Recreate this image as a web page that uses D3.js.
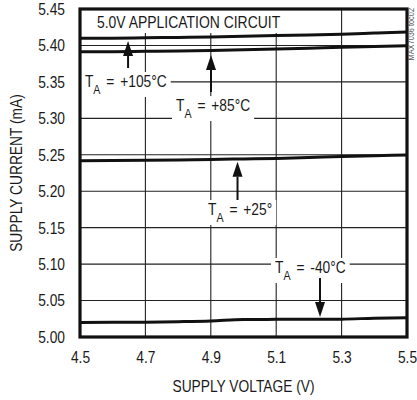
<!DOCTYPE html>
<html>
<head>
<meta charset="utf-8">
<script src="https://cdn.jsdelivr.net/npm/d3@7"></script>
<style>
  html, body { margin: 0; padding: 0; background: #fff; }
  svg { display: block; }
  text { font-family: "Liberation Sans", Arial, sans-serif; fill: #1a1a1a; }
</style>
</head>
<body>
<svg id="chart" width="417" height="400"></svg>
<script>
// ---- data ----
const voltage = [4.5, 4.6, 4.7, 4.8, 4.9, 5.0, 5.1, 5.2, 5.3, 5.4, 5.5];
const current105 = [5.4098, 5.4100, 5.4105, 5.4110, 5.4115, 5.4125, 5.4135, 5.4145, 5.4155, 5.4170, 5.4185];
const current85  = [5.3912, 5.3915, 5.3920, 5.3925, 5.3932, 5.3940, 5.3950, 5.3962, 5.3975, 5.3986, 5.3997];
const current25  = [5.2418, 5.2421, 5.2425, 5.2430, 5.2436, 5.2443, 5.2450, 5.2462, 5.2475, 5.2486, 5.2497];
const currentM40 = [5.0200, 5.0201, 5.0203, 5.0210, 5.0220, 5.0240, 5.0242, 5.0243, 5.0245, 5.0258, 5.0265];
const xTicks = [4.5, 4.7, 4.9, 5.1, 5.3, 5.5];
const yTicks = [5.00, 5.05, 5.10, 5.15, 5.20, 5.25, 5.30, 5.35, 5.40, 5.45];
const seriesLabels = ["+105°C", "+85°C", "+25°", "-40°C"];
const title = "5.0V APPLICATION CIRCUIT";
const xTitle = "SUPPLY VOLTAGE (V)";
const yTitle = "SUPPLY CURRENT (mA)";
const tocLabel = "MAX7036 toc02";

// ---- layout ----
const svg = d3.select("#chart");
const m = { left: 80, top: 9, right: 10, bottom: 63 };
const W = 417, H = 400;
const x = d3.scaleLinear().domain([4.5, 5.5]).range([m.left, W - m.right]);
const y = d3.scaleLinear().domain([5.0, 5.45]).range([H - m.bottom, m.top]);
const SX = 0.82;     // horizontal condensing of the font
const fs = 16.8;

// place a text at (px,py) condensed horizontally
function placeText(sel, px, py, rot) {
  sel.attr("x", 0).attr("y", 0)
    .attr("transform", `translate(${px},${py})${rot ? ` rotate(${rot})` : ""} scale(${SX},1)`);
  return sel;
}

// gridlines
const grid = svg.append("g").attr("stroke", "#222").attr("stroke-width", 1.1);
grid.selectAll("line.v").data(xTicks.slice(1, -1)).join("line")
  .attr("x1", d => x(d)).attr("x2", d => x(d))
  .attr("y1", y(5.45)).attr("y2", y(5.0));
grid.selectAll("line.h").data(yTicks.slice(1, -1)).join("line")
  .attr("y1", d => y(d)).attr("y2", d => y(d))
  .attr("x1", x(4.5)).attr("x2", x(5.5));

// axes (labels only)
const yAxis = svg.append("g").attr("transform", `translate(${m.left},0)`)
  .call(d3.axisLeft(y).tickValues(yTicks).tickFormat(d3.format(".2f")).tickSize(0).tickPadding(15));
const xAxis = svg.append("g").attr("transform", `translate(0,${H - m.bottom})`)
  .call(d3.axisBottom(x).tickValues(xTicks).tickFormat(d3.format(".1f")).tickSize(0).tickPadding(14));
[xAxis, yAxis].forEach(a => {
  a.select(".domain").remove();
  a.selectAll("text").attr("font-size", fs).attr("font-family", null).style("fill", "#1a1a1a");
});
yAxis.selectAll(".tick text").each(function () {
  d3.select(this).attr("transform", `translate(-15,0) scale(${SX},1)`).attr("x", 0);
});
xAxis.selectAll(".tick text").each(function () {
  d3.select(this).attr("transform", `scale(${SX},1)`);
});

// title box
const tg = svg.append("g");
const tt = placeText(tg.append("text"), x(4.5) + 17, y(5.45) + 19, 0)
  .attr("font-size", 17).text(title);
const tw = tt.node().getComputedTextLength() * SX;
tg.insert("rect", "text").attr("x", x(4.5)).attr("y", y(5.45))
  .attr("width", 17 + tw + 8).attr("height", 24)
  .attr("fill", "#fff");

// curves
const line = d3.line().x((d, i) => x(voltage[i])).y(d => y(d)).curve(d3.curveMonotoneX);
const series = [current105, current85, current25, currentM40];
svg.append("g").selectAll("path").data(series).join("path")
  .attr("d", line).attr("fill", "none").attr("stroke", "#111").attr("stroke-width", 3);

// annotations: text position (V, mA baseline), arrow x, arrow tail, arrow tip
const annotations = [
  { label: seriesLabels[0], tx: 4.515, ty: 5.343, ax: 4.647, tail: 5.369, tip: 5.4061 },
  { label: seriesLabels[1], tx: 4.7936, ty: 5.310, ax: 4.9006, tail: 5.3361, tip: 5.3869 },
  { label: seriesLabels[2], tx: 4.8914, ty: 5.1674, ax: 4.9817, tail: 5.188, tip: 5.2405 },
  { label: seriesLabels[3], tx: 5.0963, ty: 5.0878, ax: 5.234, tail: 5.0809, tip: 5.0274 }
];
const ag = svg.append("g");
annotations.forEach(a => {
  const g = ag.append("g");
  const px = x(a.tx), py = y(a.ty);
  const t = placeText(g.append("text"), px, py, 0).attr("font-size", fs).attr("word-spacing", 2.5);
  t.append("tspan").text("T");
  t.append("tspan").attr("font-size", 13).attr("dy", 7).text("A");
  t.append("tspan").attr("dy", -7).text(" = " + a.label);
  const w = t.node().getComputedTextLength() * SX;
  g.insert("rect", "text").attr("x", px - 4).attr("y", py - 15)
    .attr("width", w + 8).attr("height", 25).attr("fill", "#fff");
  // arrow
  const dir = a.tip > a.tail ? -1 : 1; // screen direction of tip (up = -1)
  const tipY = y(a.tip), tailY = y(a.tail), ax = x(a.ax);
  const headLen = 15, headW = 5;
  g.append("line").attr("x1", ax).attr("x2", ax).attr("y1", tailY).attr("y2", tipY - dir * headLen)
    .attr("stroke", "#111").attr("stroke-width", 2);
  g.append("path")
    .attr("d", `M${ax},${tipY} L${ax - headW},${tipY - dir * headLen} L${ax + headW},${tipY - dir * headLen} Z`)
    .attr("fill", "#111");
});

// frame
svg.append("rect").attr("x", x(4.5)).attr("y", y(5.45))
  .attr("width", x(5.5) - x(4.5)).attr("height", y(5.0) - y(5.45))
  .attr("fill", "none").attr("stroke", "#111").attr("stroke-width", 3.2);

// axis titles
placeText(svg.append("text"), (x(4.5) + x(5.5)) / 2, 392, 0)
  .attr("text-anchor", "middle").attr("font-size", fs).text(xTitle);
placeText(svg.append("text"), 22, (y(5.0) + y(5.45)) / 2, -90)
  .attr("text-anchor", "middle").attr("font-size", fs).text(yTitle);

// toc label
placeText(svg.append("text"), 414, 8, -90)
  .attr("text-anchor", "end").attr("font-size", 9).style("fill", "#555").text(tocLabel);
</script>
</body>
</html>
